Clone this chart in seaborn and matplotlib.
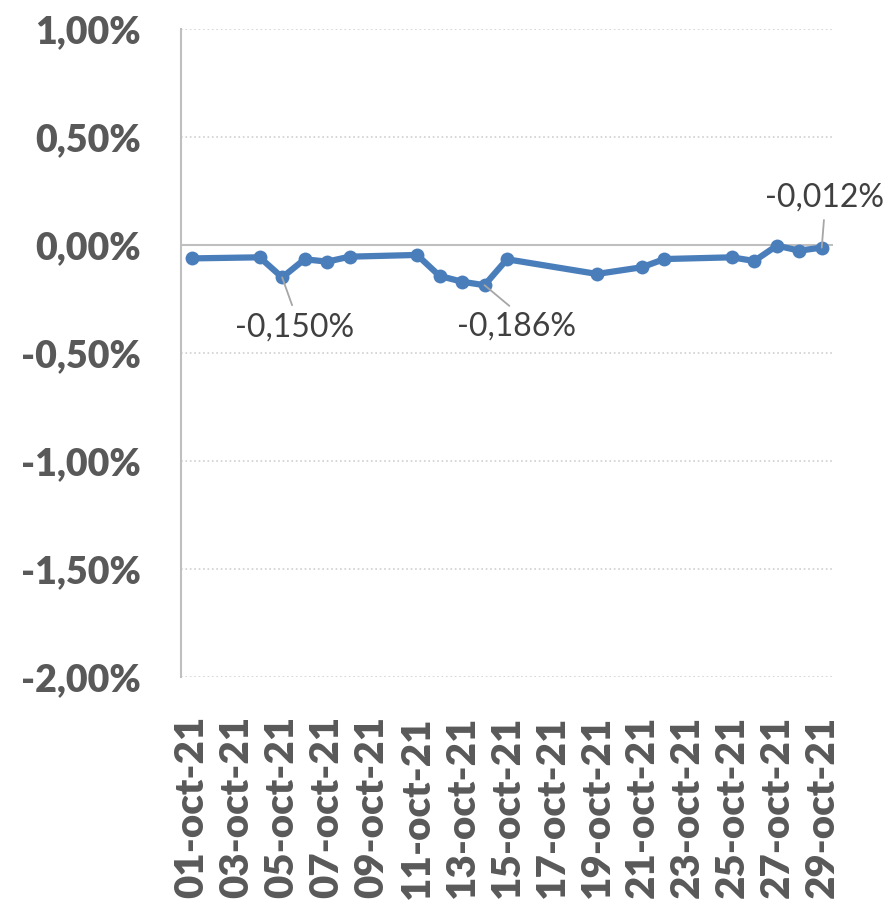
import pandas as pd
import numpy as np
import seaborn as sns
import matplotlib.pyplot as plt

# datos (variacion diaria, %)
dates = ["2021-10-01", "2021-10-04", "2021-10-05", "2021-10-06", "2021-10-07", "2021-10-08",
         "2021-10-11", "2021-10-12", "2021-10-13", "2021-10-14", "2021-10-15",
         "2021-10-19", "2021-10-21", "2021-10-22", "2021-10-25", "2021-10-26",
         "2021-10-27", "2021-10-28", "2021-10-29"]
values = [-0.062, -0.057, -0.150, -0.066, -0.077, -0.054,
          -0.046, -0.143, -0.170, -0.186, -0.066,
          -0.134, -0.103, -0.065, -0.057, -0.074,
          -0.003, -0.026, -0.012]

tick_dates = ["2021-10-%02d" % d for d in range(1, 30, 2)]
tick_labels = ["01-oct-21", "03-oct-21", "05-oct-21", "07-oct-21", "09-oct-21",
               "11-oct-21", "13-oct-21", "15-oct-21", "17-oct-21", "19-oct-21",
               "21-oct-21", "23-oct-21", "25-oct-21", "27-oct-21", "29-oct-21"]
y_ticks = [1.0, 0.5, 0.0, -0.5, -1.0, -1.5, -2.0]
y_labels = ["1,00%", "0,50%", "0,00%", "-0,50%", "-1,00%", "-1,50%", "-2,00%"]

# etiquetas de datos
ann_dates = ["2021-10-05", "2021-10-14", "2021-10-29"]
ann_texts = ["-0,150%", "-0,186%", "-0,012%"]

df = pd.DataFrame({"fecha": pd.to_datetime(dates), "var": values})

sns.set_theme(style="white")
plt.rcParams['font.family'] = ['Lato', 'DejaVu Sans']

fig = plt.figure(figsize=(8.89, 9.15), dpi=100)
ax = fig.add_axes([0.2036, 0.2601, 0.7334, 0.7082])

blue = "#4A7EBB"
sns.lineplot(data=df, x="fecha", y="var", ax=ax, color=blue, linewidth=4.5,
             marker="o", markersize=10, markeredgewidth=0, zorder=3)

ax.set_ylim(-2.0, 1.0)
ax.set_xlim(pd.Timestamp("2021-10-01") - pd.Timedelta(hours=12),
            pd.Timestamp("2021-10-29") + pd.Timedelta(hours=12))

ax.set_yticks(y_ticks)
ax.set_yticklabels(y_labels)
ax.set_xticks(pd.to_datetime(tick_dates))
ax.set_xticklabels(tick_labels, rotation=90)

gray = "#595959"
ax.tick_params(axis="y", length=0, pad=29, labelsize=27, labelcolor=gray)
ax.tick_params(axis="x", length=0, pad=28, labelsize=29, labelcolor=gray)
for lab in ax.get_xticklabels() + ax.get_yticklabels():
    lab.set_fontweight("heavy")

# rejilla punteada
for y in y_ticks:
    if y != 0:
        ax.axhline(y, color="#D0D0D0", linestyle=":", linewidth=1.2, zorder=1)
ax.axhline(0, color="#BFBFBF", linewidth=1.5, zorder=2)

for s in ["top", "right", "bottom"]:
    ax.spines[s].set_visible(False)
ax.spines["left"].set_color("#BFBFBF")
ax.spines["left"].set_linewidth(1.5)

ax.set_xlabel("")
ax.set_ylabel("")

offsets = [(9, -36), (23, -30), (2, 36)]
relpos = [(0.5, 1.0), (0.5, 1.0), (0.5, 0.0)]
for d, t, off, rp in zip(ann_dates, ann_texts, offsets, relpos):
    v = df.loc[df["fecha"] == pd.Timestamp(d), "var"].iloc[0]
    ax.annotate(t, xy=(pd.Timestamp(d), v), xytext=off, textcoords="offset points",
                ha="center", va="center", fontsize=23, color="#404040",
                arrowprops=dict(arrowstyle="-", color="#A6A6A6", lw=1.3,
                                relpos=rp, shrinkA=3, shrinkB=0),
                zorder=4)

fig.savefig("out.png", dpi=100)
